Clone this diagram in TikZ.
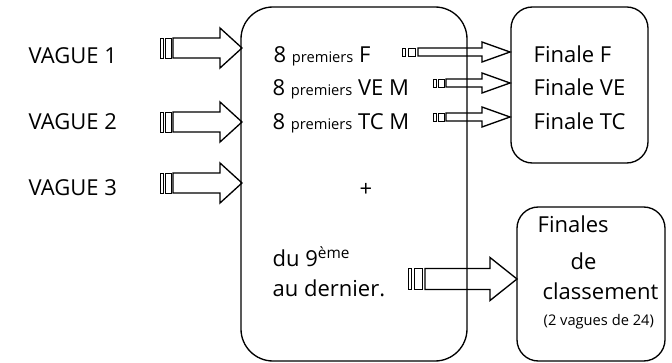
\documentclass[tikz,border=0pt]{standalone}
\usepackage{fontspec}
\setmainfont{Open Sans}

\newcommand{\petit}{\fontsize{11}{13}\selectfont}
\newcommand{\stripearrow}[7]{% stripes at #1, body from #2, head at #3, tip #4, height #5, half body #6, half head #7
	\draw[thin] (#1,#5-#6) rectangle ({#1+0.22*(#2-#1)},#5+#6);
	\draw[thin] ({#1+0.38*(#2-#1)},#5-#6) rectangle ({#1+0.84*(#2-#1)},#5+#6);
	\draw (#2,#5-#6) -- (#3,#5-#6) -- (#3,#5-#7) -- (#4,#5) -- (#3,#5+#7) -- (#3,#5+#6) -- (#2,#5+#6) -- cycle;
}

\begin{document}
\begin{tikzpicture}[x=0.75pt,y=-0.75pt,line width=1pt,
		box/.style={draw,inner sep=0pt,outer sep=0pt,anchor=north west},
		txt/.style={anchor=base west,inner sep=0pt,font=\fontsize{16.5}{19}\selectfont}]
	\useasboundingbox (0,0) rectangle (672,363);
	\node[box,rounded corners=24pt,minimum width=169.5pt,minimum height=265.5pt] (main) at (241,7) {};
	\node[box,rounded corners=16pt,minimum width=102.75pt,minimum height=117pt] (finales) at (511,7) {};
	\node[box,rounded corners=16pt,minimum width=111pt,minimum height=115.5pt] (classt) at (517,207) {};

	\node[txt] (v1) at (28,64) {VAGUE 1};
	\node[txt] (v2) at (28,130) {VAGUE 2};
	\node[txt] (v3) at (28,196) {VAGUE 3};
	\stripearrow{160}{173}{220}{242}{48}{10}{20}
	\stripearrow{160}{173}{220}{242}{122}{10}{20}
	\stripearrow{160}{173}{220}{242}{183}{10}{20}

	\node[txt] (pf) at (273,63) {8 {\petit premiers} F};
	\node[txt] (pve) at (272,96) {8 {\petit premiers} VE M};
	\node[txt] (ptc) at (272,130) {8 {\petit premiers} TC M};
	\node[txt,anchor=center] (plus) at (366,190) {+};
	\node[txt] (du) at (272,267) {du 9\textsuperscript{ème}};
	\node[txt] (au) at (272,297) {au dernier.};
	\stripearrow{402}{418}{482}{510}{52}{4}{10}
	\stripearrow{433}{446}{482}{510}{83}{4}{10}
	\stripearrow{433}{446}{482}{510}{117}{4}{10}
	\stripearrow{408}{425}{490}{517}{279}{10.5}{21.5}

	\node[txt] (ff) at (533,63) {Finale F};
	\node[txt] (fve) at (533,96) {Finale VE};
	\node[txt] (ftc) at (533,130) {Finale TC};

	\node[txt] (fs) at (537,233) {Finales};
	\node[txt] (de) at (570,270) {de};
	\node[txt] (cl) at (542,300) {classement};
	\node[txt,font=\petit] (vg) at (543,326) {(2 vagues de 24)};
\end{tikzpicture}
\end{document}
